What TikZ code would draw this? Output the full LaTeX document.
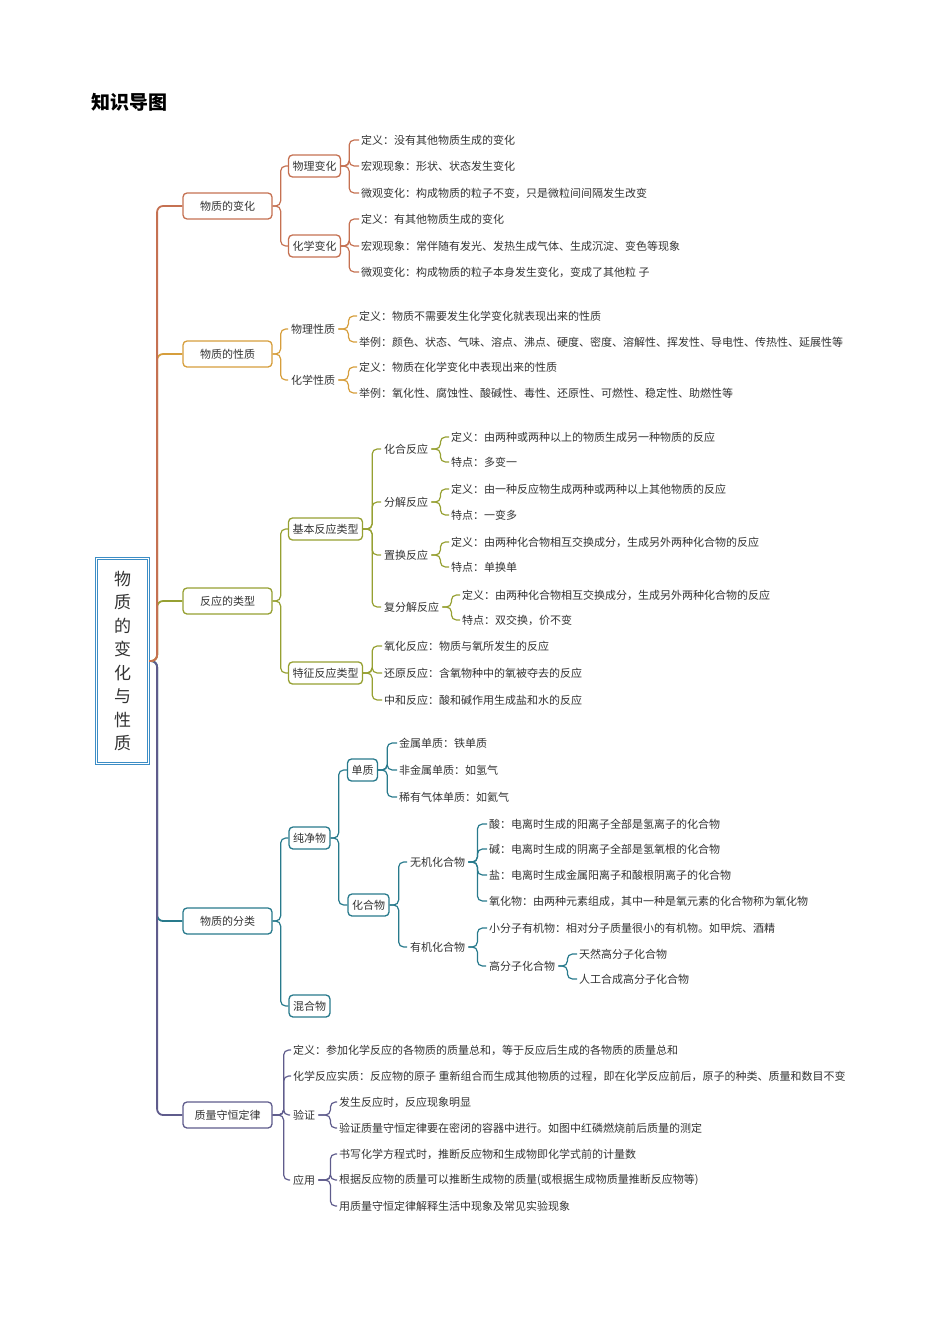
\documentclass[tikz,border=0pt]{standalone}
\usepackage{fontspec}
\setmainfont{Noto Sans CJK SC}
\definecolor{rootc}{RGB}{60,141,197}
\definecolor{c1}{RGB}{197,113,82}
\definecolor{c2}{RGB}{214,158,60}
\definecolor{c3}{RGB}{150,160,50}
\definecolor{c4}{RGB}{40,122,140}
\definecolor{c5}{RGB}{95,92,140}
\definecolor{ink}{RGB}{51,51,51}

\begin{document}
\begin{tikzpicture}[x=1pt,y=-1pt,
  every node/.style={text=ink,font=\fontsize{11}{13}\selectfont},
  topbox/.style={draw=#1,rounded corners=4,line width=1.3pt,minimum width=89pt,minimum height=26pt,inner sep=0pt,fill=white},
  subbox/.style={draw=#1,rounded corners=4,line width=1.3pt,minimum height=22pt,inner xsep=4pt,inner ysep=0pt,fill=white},
  txt/.style={anchor=west,inner xsep=3pt,inner ysep=1pt},
  leaf/.style={anchor=west,inner xsep=2pt,inner ysep=1pt},
  trunk/.style={line width=1.8pt,rounded corners=6},
  twig/.style={line width=1.2pt,rounded corners=5}]
  \useasboundingbox (0,0) rectangle (950,1344);
  \node[anchor=west,text=black,font=\fontsize{19}{22}\selectfont\bfseries] (title) at (88,102) {知识导图};
  % root
  \node[draw=rootc,double=white,double distance=1.4pt,line width=1.2pt,minimum width=52pt,minimum height=205pt,
        inner sep=0pt,align=center,font=\fontsize{17}{23.5}\selectfont] (root) at (122.5,661)
        {物\\质\\的\\变\\化\\与\\性\\质};
  % first level
  \node[topbox=c1] (b1) at (227.5,206) {物质的变化};
  \node[topbox=c2] (b2) at (227.5,354) {物质的性质};
  \node[topbox=c3] (b3) at (227.5,601) {反应的类型};
  \node[topbox=c4] (b4) at (227.5,921) {物质的分类};
  \node[topbox=c5] (b5) at (227.5,1115) {质量守恒定律};
  \draw[trunk,c4] (root.east) -- ++(8,0) |- (b4.west);
  \draw[trunk,c5] (root.east) -- ++(8,0) |- (b5.west);
  \draw[trunk,c3] (root.east) -- ++(8,0) |- (b3.west);
  \draw[trunk,c2] (root.east) -- ++(8,0) |- (b2.west);
  \draw[trunk,c1] (root.east) -- ++(8,0) |- (b1.west);

  % branch 1: 物质的变化
  \node[subbox=c1] (b1a) at (314.5,166) {物理变化};
  \node[subbox=c1] (b1b) at (314.5,246) {化学变化};
  \draw[twig,c1] (b1.east) -- ++(8,0) |- (b1a.west);
  \draw[twig,c1] (b1.east) -- ++(8,0) |- (b1b.west);
  \node[leaf] (b1a1) at (359,140) {定义：没有其他物质生成的变化};
  \node[leaf] (b1a2) at (359,166) {宏观现象：形状、状态发生变化};
  \node[leaf] (b1a3) at (359,193) {微观变化：构成物质的粒子不变，只是微粒间间隔发生改变};
  \node[leaf] (b1b1) at (359,219) {定义：有其他物质生成的变化};
  \node[leaf] (b1b2) at (359,246) {宏观现象：常伴随有发光、发热生成气体、生成沉淀、变色等现象};
  \node[leaf] (b1b3) at (359,272) {微观变化：构成物质的粒子本身发生变化，变成了其他粒 子};
  \draw[twig,c1] (b1a.east) -- ++(8,0) |- (b1a1.west);
  \draw[twig,c1] (b1a.east) -- ++(8,0) |- (b1a2.west);
  \draw[twig,c1] (b1a.east) -- ++(8,0) |- (b1a3.west);
  \draw[twig,c1] (b1b.east) -- ++(8,0) |- (b1b1.west);
  \draw[twig,c1] (b1b.east) -- ++(8,0) |- (b1b2.west);
  \draw[twig,c1] (b1b.east) -- ++(8,0) |- (b1b3.west);

  % branch 2: 物质的性质
  \node[txt] (b2a) at (288,329) {物理性质};
  \node[txt] (b2b) at (288,380) {化学性质};
  \draw[twig,c2] (b2.east) -- ++(8,0) |- (b2a.west);
  \draw[twig,c2] (b2.east) -- ++(8,0) |- (b2b.west);
  \node[leaf] (b2a1) at (357,316) {定义：物质不需要发生化学变化就表现出来的性质};
  \node[leaf] (b2a2) at (357,342) {举例：颜色、状态、气味、溶点、沸点、硬度、密度、溶解性、挥发性、导电性、传热性、延展性等};
  \node[leaf] (b2b1) at (357,367) {定义：物质在化学变化中表现出来的性质};
  \node[leaf] (b2b2) at (357,393) {举例：氧化性、腐蚀性、酸碱性、毒性、还原性、可燃性、稳定性、助燃性等};
  \draw[twig,c2] (b2a.east) -- ++(10,0) |- (b2a1.west);
  \draw[twig,c2] (b2a.east) -- ++(10,0) |- (b2a2.west);
  \draw[twig,c2] (b2b.east) -- ++(10,0) |- (b2b1.west);
  \draw[twig,c2] (b2b.east) -- ++(10,0) |- (b2b2.west);

  % branch 3: 反应的类型
  \node[subbox=c3] (b3a) at (325.5,529) {基本反应类型};
  \node[subbox=c3] (b3b) at (325.5,673) {特征反应类型};
  \draw[twig,c3] (b3.east) -- ++(8,0) |- (b3a.west);
  \draw[twig,c3] (b3.east) -- ++(8,0) |- (b3b.west);
  \node[txt] (r1) at (381,449) {化合反应};
  \node[txt] (r2) at (381,502) {分解反应};
  \node[txt] (r3) at (381,555) {置换反应};
  \node[txt] (r4) at (381,607) {复分解反应};
  \draw[twig,c3] (b3a.east) -- ++(9,0) |- (r1.west);
  \draw[twig,c3] (b3a.east) -- ++(9,0) |- (r2.west);
  \draw[twig,c3] (b3a.east) -- ++(9,0) |- (r3.west);
  \draw[twig,c3] (b3a.east) -- ++(9,0) |- (r4.west);
  \node[leaf] (r1a) at (449,437) {定义：由两种或两种以上的物质生成另一种物质的反应};
  \node[leaf] (r1b) at (449,462) {特点：多变一};
  \node[leaf] (r2a) at (449,489) {定义：由一种反应物生成两种或两种以上其他物质的反应};
  \node[leaf] (r2b) at (449,515) {特点：一变多};
  \node[leaf] (r3a) at (449,542) {定义：由两种化合物相互交换成分，生成另外两种化合物的反应};
  \node[leaf] (r3b) at (449,567) {特点：单换单};
  \node[leaf] (r4a) at (460,595) {定义：由两种化合物相互交换成分，生成另外两种化合物的反应};
  \node[leaf] (r4b) at (460,620) {特点：双交换，价不变};
  \draw[twig,c3] (r1.east) -- ++(9,0) |- (r1a.west);
  \draw[twig,c3] (r1.east) -- ++(9,0) |- (r1b.west);
  \draw[twig,c3] (r2.east) -- ++(9,0) |- (r2a.west);
  \draw[twig,c3] (r2.east) -- ++(9,0) |- (r2b.west);
  \draw[twig,c3] (r3.east) -- ++(9,0) |- (r3a.west);
  \draw[twig,c3] (r3.east) -- ++(9,0) |- (r3b.west);
  \draw[twig,c3] (r4.east) -- ++(9,0) |- (r4a.west);
  \draw[twig,c3] (r4.east) -- ++(9,0) |- (r4b.west);
  \node[leaf] (t1) at (382,646) {氧化反应：物质与氧所发生的反应};
  \node[leaf] (t2) at (382,673) {还原反应：含氧物种中的氧被夺去的反应};
  \node[leaf] (t3) at (382,700) {中和反应：酸和碱作用生成盐和水的反应};
  \draw[twig,c3] (b3b.east) -- ++(9,0) |- (t1.west);
  \draw[twig,c3] (b3b.east) -- ++(9,0) |- (t2.west);
  \draw[twig,c3] (b3b.east) -- ++(9,0) |- (t3.west);

  % branch 4: 物质的分类
  \node[subbox=c4] (b4a) at (309.5,838) {纯净物};
  \node[subbox=c4] (b4b) at (309.5,1006) {混合物};
  \draw[twig,c4] (b4.east) -- ++(8,0) |- (b4a.west);
  \draw[twig,c4] (b4.east) -- ++(8,0) |- (b4b.west);
  \node[subbox=c4] (dz) at (362.5,770) {单质};
  \node[subbox=c4] (hhw) at (368.5,905) {化合物};
  \draw[twig,c4] (b4a.east) -- ++(8,0) |- (dz.west);
  \draw[twig,c4] (b4a.east) -- ++(8,0) |- (hhw.west);
  \node[leaf] (dz1) at (397,743) {金属单质：铁单质};
  \node[leaf] (dz2) at (397,770) {非金属单质：如氢气};
  \node[leaf] (dz3) at (397,797) {稀有气体单质：如氦气};
  \draw[twig,c4] (dz.east) -- ++(9,0) |- (dz1.west);
  \draw[twig,c4] (dz.east) -- ++(9,0) |- (dz2.west);
  \draw[twig,c4] (dz.east) -- ++(9,0) |- (dz3.west);
  \node[txt] (wj) at (407,862) {无机化合物};
  \node[txt] (yj) at (407,947) {有机化合物};
  \draw[twig,c4] (hhw.east) -- ++(9,0) |- (wj.west);
  \draw[twig,c4] (hhw.east) -- ++(9,0) |- (yj.west);
  \node[leaf] (wj1) at (487,824) {酸：电离时生成的阳离子全部是氢离子的化合物};
  \node[leaf] (wj2) at (487,849) {碱：电离时生成的阴离子全部是氢氧根的化合物};
  \node[leaf] (wj3) at (487,875) {盐：电离时生成金属阳离子和酸根阴离子的化合物};
  \node[leaf] (wj4) at (487,901) {氧化物：由两种元素组成，其中一种是氧元素的化合物称为氧化物};
  \draw[twig,c4] (wj.east) -- ++(9,0) |- (wj1.west);
  \draw[twig,c4] (wj.east) -- ++(9,0) |- (wj2.west);
  \draw[twig,c4] (wj.east) -- ++(9,0) |- (wj3.west);
  \draw[twig,c4] (wj.east) -- ++(9,0) |- (wj4.west);
  \node[leaf] (yj1) at (487,928) {小分子有机物：相对分子质量很小的有机物。如甲烷、酒精};
  \node[txt] (gf) at (486,966) {高分子化合物};
  \draw[twig,c4] (yj.east) -- ++(9,0) |- (yj1.west);
  \draw[twig,c4] (yj.east) -- ++(9,0) |- (gf.west);
  \node[leaf] (gf1) at (577,954) {天然高分子化合物};
  \node[leaf] (gf2) at (577,979) {人工合成高分子化合物};
  \draw[twig,c4] (gf.east) -- ++(9,0) |- (gf1.west);
  \draw[twig,c4] (gf.east) -- ++(9,0) |- (gf2.west);

  % branch 5: 质量守恒定律
  \node[leaf] (b5a) at (291,1050) {定义：参加化学反应的各物质的质量总和，等于反应后生成的各物质的质量总和};
  \node[leaf] (b5b) at (291,1076) {化学反应实质：反应物的原子 重新组合而生成其他物质的过程，即在化学反应前后，原子的种类、质量和数目不变};
  \node[txt] (yz) at (290,1115) {验证};
  \node[txt] (yy) at (290,1180) {应用};
  \draw[twig,c5] (b5.east) -- ++(11,0) |- (b5a.west);
  \draw[twig,c5] (b5.east) -- ++(11,0) |- (b5b.west);
  \draw[twig,c5] (b5.east) -- ++(11,0) |- (yz.west);
  \draw[twig,c5] (b5.east) -- ++(11,0) |- (yy.west);
  \node[leaf] (yz1) at (337,1102) {发生反应时，反应现象明显};
  \node[leaf] (yz2) at (337,1128) {验证质量守恒定律要在密闭的容器中进行。如图中红磷燃烧前后质量的测定};
  \draw[twig,c5] (yz.east) -- ++(12,0) |- (yz1.west);
  \draw[twig,c5] (yz.east) -- ++(12,0) |- (yz2.west);
  \node[leaf] (yy1) at (337,1154) {书写化学方程式时，推断反应物和生成物即化学式前的计量数};
  \node[leaf] (yy2) at (337,1180) {根据反应物的质量可以推断生成物的质量(或根据生成物质量推断反应物等)};
  \node[leaf] (yy3) at (337,1206) {用质量守恒定律解释生活中现象及常见实验现象};
  \draw[twig,c5] (yy.east) -- ++(12,0) |- (yy1.west);
  \draw[twig,c5] (yy.east) -- ++(12,0) |- (yy2.west);
  \draw[twig,c5] (yy.east) -- ++(12,0) |- (yy3.west);
\end{tikzpicture}
\end{document}
